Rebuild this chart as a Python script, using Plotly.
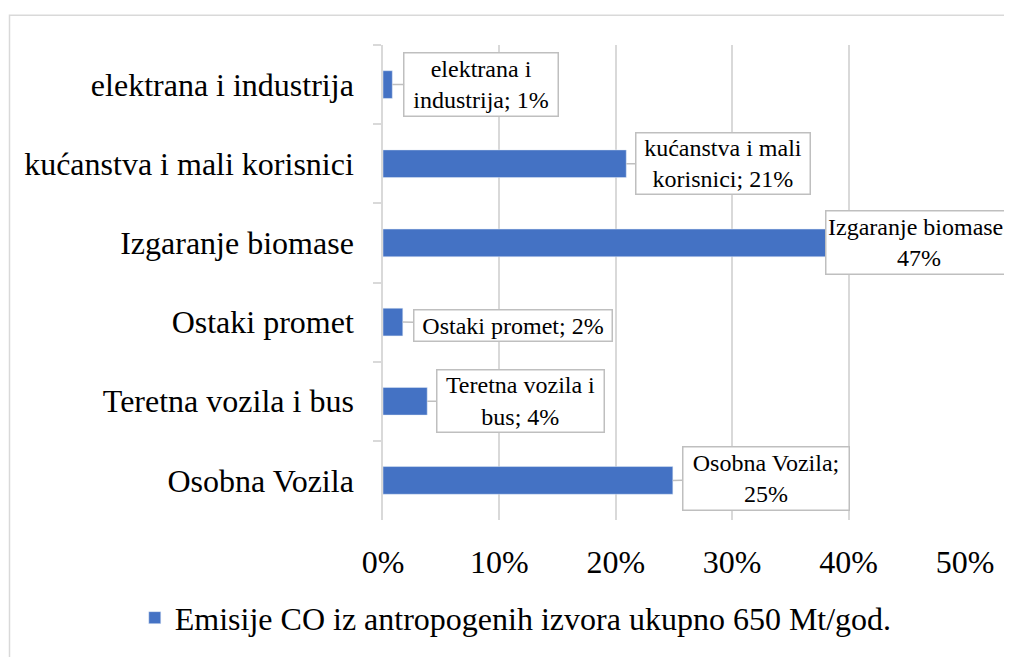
import plotly.graph_objects as go

categories = ["elektrana i industrija", "kućanstva i mali korisnici", "Izgaranje biomase",
              "Ostaki promet", "Teretna vozila i bus", "Osobna Vozila"]
values = [0.008, 0.209, 0.47, 0.017, 0.038, 0.249]
label_texts = ["elektrana i<br>industrija; 1%", "kućanstva i mali<br>korisnici; 21%",
               "Izgaranje biomase;<br>47%", "Ostaki promet; 2%",
               "Teretna vozila i<br>bus; 4%", "Osobna Vozila;<br>25%"]
series_name = "Emisije CO iz antropogenih izvora ukupno 650 Mt/god."
tick_vals = [0, 0.1, 0.2, 0.3, 0.4, 0.5]
tick_text = ["0%", "10%", "20%", "30%", "40%", "50%"]

# label box placement (pixel offsets from bar end, box sizes)
label_ax = [89, 97, -11, 110, 93, 93]
label_ay = [0, 0, 0, 3, 0, -2]
label_w = [151, 171, 183, 195, 164, 163]
label_h = [60, 58, 60, 28, 59, 60]

FONT = "Liberation Serif"
GRID = "#D9D9D9"

fig = go.Figure()
fig.add_trace(go.Bar(
    x=values, y=categories, orientation="h", width=0.35,
    marker=dict(color="#4472C4"), name=series_name, showlegend=True,
))

for i in range(len(categories)):
    fig.add_annotation(
        x=values[i], y=categories[i], xref="x", yref="y",
        text=label_texts[i], showarrow=True, arrowhead=0, arrowwidth=1.5,
        arrowcolor="#BFBFBF", ax=label_ax[i], ay=label_ay[i],
        font=dict(family=FONT, size=24, color="black"),
        bgcolor="white", bordercolor="#BFBFBF", borderwidth=1.5, borderpad=1,
        width=label_w[i], height=label_h[i], align="center",
    )

# outer chart border
fig.add_shape(type="rect", xref="paper", yref="paper",
              x0=(9.5 - 383) / 582, x1=1.3, y0=-0.6, y1=(525 - 15) / 480,
              line=dict(color=GRID, width=1.5), fillcolor="rgba(0,0,0,0)", layer="below")

fig.update_layout(
    width=1004, height=649,
    margin=dict(l=375, r=47, t=37, b=132),
    paper_bgcolor="white", plot_bgcolor="white",
    font=dict(family=FONT, size=32, color="black"),
    showlegend=True,
    legend=dict(orientation="h", x=-0.4265, xanchor="left", y=-0.206, yanchor="middle",
                font=dict(family=FONT, size=32, color="black"), bgcolor="rgba(0,0,0,0)"),
    xaxis=dict(range=[0, 0.5], tickvals=tick_vals, ticktext=tick_text,
               showgrid=True, gridcolor=GRID, gridwidth=1.5, zeroline=False,
               showline=False, ticks="", ticklabelstandoff=20,
               tickfont=dict(family=FONT, size=32, color="black")),
    yaxis=dict(type="category", categoryorder="array", categoryarray=categories,
               autorange="reversed", showgrid=False, zeroline=False,
               showline=True, linecolor=GRID, linewidth=1.5,
               ticks="outside", tickson="boundaries", ticklen=8, tickcolor=GRID, tickwidth=1.5,
               ticklabelstandoff=21,
               tickfont=dict(family=FONT, size=32, color="black")),
)

fig.write_html("out.html")
